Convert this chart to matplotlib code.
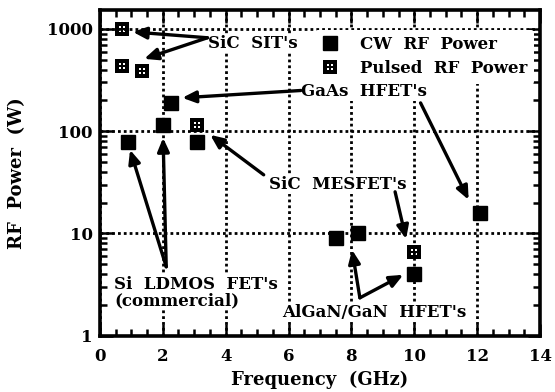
import numpy as np
import matplotlib
matplotlib.use("Agg")
import matplotlib.pyplot as plt
from matplotlib.path import Path
from matplotlib.ticker import FixedLocator, MultipleLocator, LogLocator, NullFormatter

# ---- data -----------------------------------------------------------------
cw_freq = [0.9, 2.0, 2.25, 3.1, 7.5, 8.2, 10.0, 12.1]
cw_power = [78, 115, 190, 78, 9.1, 10.0, 4.0, 15.7]
pulsed_freq = [0.7, 0.7, 1.35, 3.1, 10.0]
pulsed_power = [1000, 430, 390, 115, 6.5]

x_ticks = [0, 2, 4, 6, 8, 10, 12, 14]
y_ticks = [1, 10, 100, 1000]

plt.rcParams["font.family"] = "DejaVu Serif"
plt.rcParams["font.weight"] = "bold"


def pulsed_marker():
    """Black square with four small white square holes."""
    verts = [(-1, -1), (1, -1), (1, 1), (-1, 1), (-1, -1)]
    codes = [Path.MOVETO] + [Path.LINETO] * 3 + [Path.CLOSEPOLY]
    s = 0.14
    for cx, cy in [(-0.3, -0.3), (0.3, -0.3), (-0.3, 0.3), (0.3, 0.3)]:
        verts += [(cx - s, cy - s), (cx - s, cy + s), (cx + s, cy + s),
                  (cx + s, cy - s), (cx - s, cy - s)]
        codes += [Path.MOVETO] + [Path.LINETO] * 3 + [Path.CLOSEPOLY]
    return Path(verts, codes)


fig = plt.figure(figsize=(5.55, 3.92), dpi=100)
ax = fig.add_axes([0.18, 0.144, 0.793, 0.831])

ax.set_yscale("log")
ax.set_xlim(0, 14)
ax.set_ylim(1, 1540)

# dotted grid
ax.grid(True, which="major", linestyle=(0, (1, 1.1)), color="black", lw=2.0)
ax.set_axisbelow(True)

ax.plot(cw_freq, cw_power, "s", ms=10.5, color="black", mec="black",
        label="CW  RF  Power", zorder=5)
ax.plot(pulsed_freq, pulsed_power, ls="none", marker=pulsed_marker(), ms=9.5,
        color="black", mec="black", mew=0, label="Pulsed  RF  Power", zorder=5)

# ticks
ax.xaxis.set_major_locator(FixedLocator(x_ticks))
ax.xaxis.set_minor_locator(MultipleLocator(0.5))
ax.yaxis.set_major_locator(FixedLocator(y_ticks))
ax.yaxis.set_minor_locator(LogLocator(base=10, subs=np.arange(2, 10)))
ax.yaxis.set_minor_formatter(NullFormatter())
ax.set_yticklabels([str(v) for v in y_ticks])
ax.tick_params(which="both", direction="in", top=True, right=True,
               labelsize=12, width=1.8)
ax.tick_params(which="major", length=9)
ax.tick_params(which="minor", length=5)
ax.tick_params(axis="x", which="major", pad=9)
ax.tick_params(axis="y", which="major", pad=5)
for sp in ax.spines.values():
    sp.set_linewidth(2.6)

ax.set_xlabel("Frequency  (GHz)", fontsize=13, fontweight="bold", labelpad=4)
ax.set_ylabel("RF  Power  (W)", fontsize=13, fontweight="bold", labelpad=15)

leg = ax.legend(loc="upper left", bbox_to_anchor=(0.47, 0.965), frameon=True,
                fontsize=12, handlelength=1.0, handletextpad=1.3,
                labelspacing=0.42, borderpad=0.4, markerscale=1.0)
leg.get_frame().set_facecolor("white")
leg.get_frame().set_edgecolor("none")
leg.get_frame().set_alpha(1.0)

# ---- annotations -----------------------------------------------------------
txt = dict(fontsize=12, fontweight="bold", va="center", ha="left", zorder=6,
           bbox=dict(facecolor="white", edgecolor="none", pad=0.5))
arrow = dict(arrowstyle="-|>,head_length=0.8,head_width=0.35", color="black",
             lw=2.4, shrinkA=0, shrinkB=0)


def arr(tail, head):
    ax.annotate("", xy=head, xytext=tail, arrowprops=arrow, zorder=7)


ax.text(3.45, 715, "SiC  SIT's", **txt)
arr((3.42, 820), (1.05, 935))
arr((3.42, 820), (1.41, 510))

ax.text(6.39, 243, "GaAs  HFET's", **txt)
arr((6.39, 250), (2.62, 212))
arr((10.2, 189), (11.73, 21.3))

ax.text(5.37, 29.8, "SiC  MESFET's", **txt)
arr((5.21, 37.4), (3.51, 92))
arr((9.39, 25.5), (9.74, 8.8))

ax.text(0.45, 2.62, "Si  LDMOS  FET's\n(commercial)", linespacing=0.95, **txt)
arr((2.11, 4.71), (0.96, 65.6))
arr((2.11, 4.71), (2.01, 86))

ax.text(5.81, 1.67, "AlGaN/GaN  HFET's", **txt)
arr((8.27, 2.34), (8.02, 6.9))
arr((8.27, 2.34), (9.65, 3.93))

fig.savefig("out.png", dpi=100)
